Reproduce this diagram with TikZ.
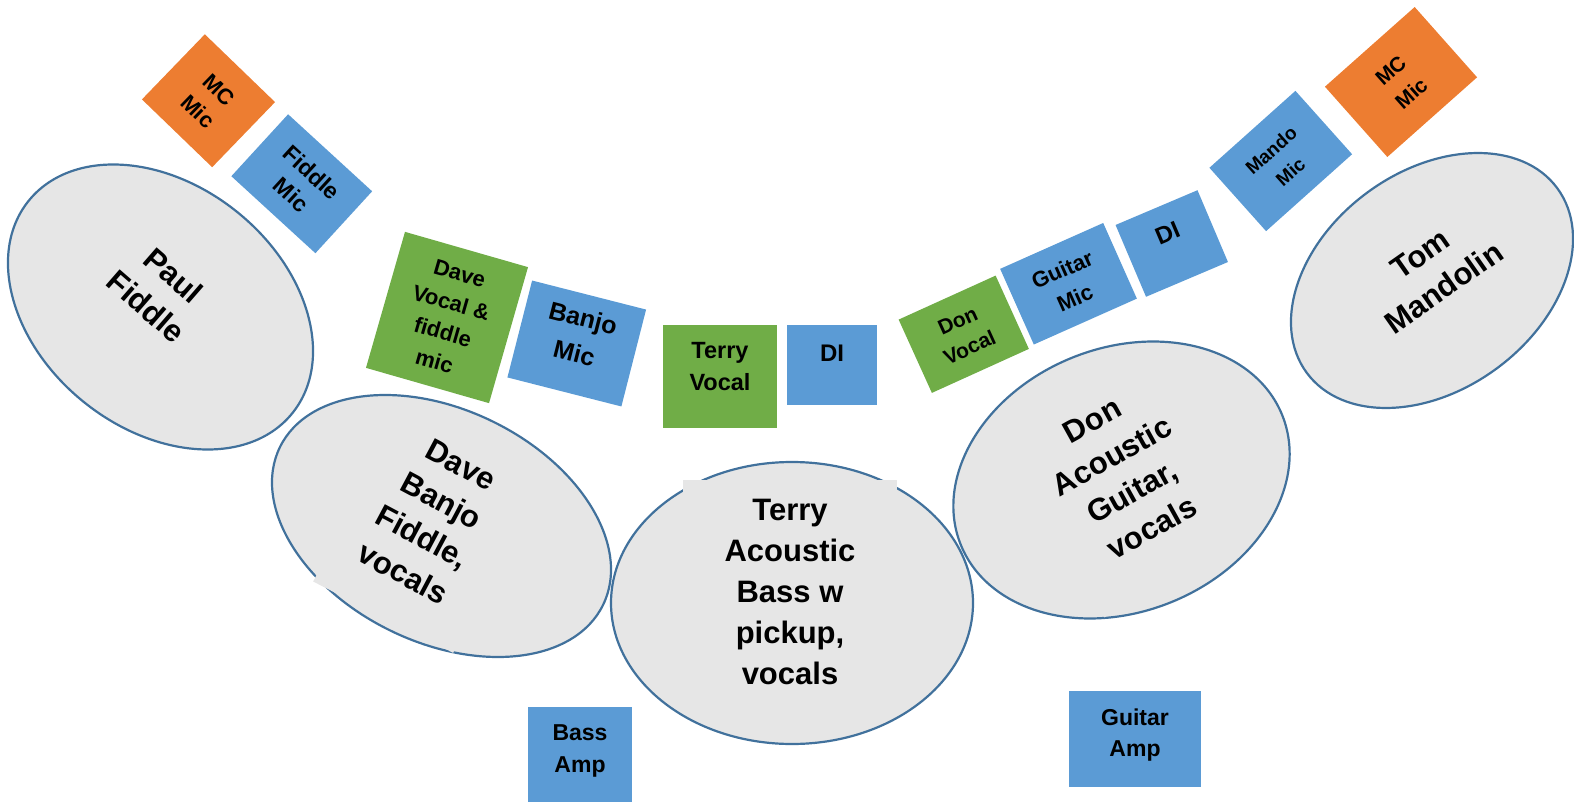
\documentclass[tikz,border=0pt]{standalone}
\usepackage{fontspec}
\setmainfont{Liberation Sans}
\usetikzlibrary{shapes.geometric}
\definecolor{micblue}{HTML}{5B9BD5}
\definecolor{mcorange}{HTML}{ED7D31}
\definecolor{voxgreen}{HTML}{70AD47}
\definecolor{floorgrey}{HTML}{E6E6E6}
\definecolor{rimblue}{HTML}{41719C}

\begin{document}
\begin{tikzpicture}[
        x=1pt, y=-1pt, % координаты в пикселях, y вниз
        player/.style={ellipse, draw=rimblue, line width=2.2pt, fill=floorgrey, inner sep=0pt}, % музыкант
        who/.style={align=center, font=\bfseries\fontsize{31}{41}\selectfont}, % подпись музыканта
        textfield/.style={rectangle, fill=floorgrey, inner sep=0pt}, % поле текста поверх контура
        tag/.style 2 args={rectangle, inner sep=0pt, align=center, font=\bfseries\fontsize{#1}{#2}\selectfont},
        mic/.style={fill=micblue},
        mc/.style={fill=mcorange},
        vox/.style={fill=voxgreen},
    ]
    \useasboundingbox (0,0) rectangle (1574,802);

    % музыканты
    \node[player, minimum width=338.6pt, minimum height=244.2pt, rotate=-38.8] (paul) at (160.5,307) {};
    \node[who, rotate=-41] (paultxt) at (160,291) {Paul\\Fiddle};

    \node[player, minimum width=359.6pt, minimum height=232.8pt, rotate=-26] (dave) at (441.5,526) {};
    \node[textfield, minimum width=157pt, minimum height=180pt, rotate=-27] (davefield) at (424,537) {};
    \node[who, rotate=-28] (davetxt) at (432,519) {Dave\\Banjo\\Fiddle,\\vocals};

    \node[player, minimum width=362pt, minimum height=282pt] (terry) at (792,603) {};
    \node[textfield, minimum width=214pt, minimum height=220pt] (terryfield) at (790,590) {};
    \node[who] (terrytxt) at (790,592) {Terry\\Acoustic\\Bass w\\pickup,\\vocals};

    \node[player, minimum width=346.6pt, minimum height=263.8pt, rotate=22] (don) at (1121.5,480) {};
    \node[textfield, minimum width=172pt, minimum height=180pt, rotate=29] (donfield) at (1136,497) {};
    \node[who, rotate=29] (dontxt) at (1122,474) {Don\\Acoustic\\Guitar,\\vocals};

    \node[player, minimum width=311.2pt, minimum height=218.4pt, rotate=36.4] (tom) at (1432,280.5) {};
    \node[who, rotate=35] (tomtxt) at (1432,271) {Tom\\Mandolin};

    % микрофоны и DI
    \node[tag={22}{30}, mc, minimum width=97.6pt, minimum height=90.5pt, rotate=-44] (mcmicL) at (208.5,100.75) {MC\\Mic};
    \node[tag={23}{30}, mic, minimum width=114pt, minimum height=84pt, rotate=-42.5] (fiddlemic) at (301.75,183.75) {Fiddle\\Mic};
    \node[tag={22}{30.5}, vox, minimum width=128pt, minimum height=141.5pt, rotate=-16] (davevox) at (447,317.5) {Dave\\Vocal \&\\fiddle\\mic};
    \node[tag={25}{36}, mic, minimum width=117.6pt, minimum height=100pt, rotate=-14.3, text depth=17pt] (banjomic) at (576.75,343.5) {Banjo\\Mic};
    \node[tag={23.5}{32}, vox, minimum width=114pt, minimum height=103pt, text depth=20pt] (terryvox) at (720,376.5) {Terry\\Vocal};
    \node[tag={24}{32}, mic, minimum width=90pt, minimum height=80pt, text depth=24pt] (diL) at (832,365) {DI};
    \node[tag={21}{29}, vox, minimum width=106.5pt, minimum height=80.5pt, rotate=24.4] (donvox) at (963.75,334.25) {Don\\Vocal};
    \node[tag={22}{31}, mic, minimum width=112.8pt, minimum height=82.8pt, rotate=24] (guitarmic) at (1068.5,283.75) {Guitar\\Mic};
    \node[tag={24}{32}, mic, minimum width=89pt, minimum height=78pt, rotate=23, text depth=22pt] (diR) at (1171.75,243.5) {DI};
    \node[tag={19}{29}, mic, minimum width=115.4pt, minimum height=85pt, rotate=41.8] (mandomic) at (1280.75,161) {Mando\\Mic};
    \node[tag={21}{31}, mc, minimum width=120pt, minimum height=94pt, rotate=41.6] (mcmicR) at (1401,82) {MC\\Mic};

    % усилители
    \node[tag={23}{32}, mic, minimum width=104pt, minimum height=103pt, text depth=19pt] (bassamp) at (580,758.5) {Bass\\Amp};
    \node[tag={23}{31}, mic, minimum width=132pt, minimum height=96pt, text depth=13pt] (guitaramp) at (1135,739) {Guitar\\Amp};
\end{tikzpicture}
\end{document}
